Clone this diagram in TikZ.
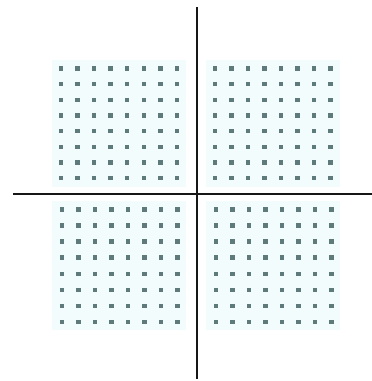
\documentclass[tikz,border=0pt]{standalone}
\begin{document}
\begin{tikzpicture}[x=1pt,y=-1pt,
  dotc/.style={fill={rgb,255:red,95;green,122;blue,122}},
  tint/.style={fill={rgb,255:red,243;green,252;blue,252}},
  axis/.style={line width=1.8pt,draw={rgb,255:red,22;green,22;blue,22}}]
\useasboundingbox (0,0) rectangle (372,381);
% faint tinted panels
\fill[tint] (52,60) rectangle (186,187);
\fill[tint] (206,60) rectangle (340,187);
\fill[tint] (52,201) rectangle (186,330);
\fill[tint] (206,201) rectangle (340,330);
% dots
\foreach \i in {0,...,7}{
  \foreach \j in {0,...,7}{
    \fill[dotc] ({61+16.55*\i-2.2},{68.3+15.7*\j-2.2}) rectangle ++(4.4,4.4);
    \fill[dotc] ({215+16.5*\i-2.2},{68.3+15.7*\j-2.2}) rectangle ++(4.4,4.4);
    \fill[dotc] ({62+16.5*\i-2.2},{209.3+16.1*\j-2.2}) rectangle ++(4.4,4.4);
    \fill[dotc] ({216+16.5*\i-2.2},{209.3+16.1*\j-2.2}) rectangle ++(4.4,4.4);
  }
}
% axes
\coordinate (xl) at (13,194.3);
\coordinate (xr) at (372,194.3);
\coordinate (yt) at (196.7,7);
\coordinate (yb) at (196.7,379);
\draw[axis] (xl) -- (xr);
\draw[axis] (yt) -- (yb);
\end{tikzpicture}
\end{document}
